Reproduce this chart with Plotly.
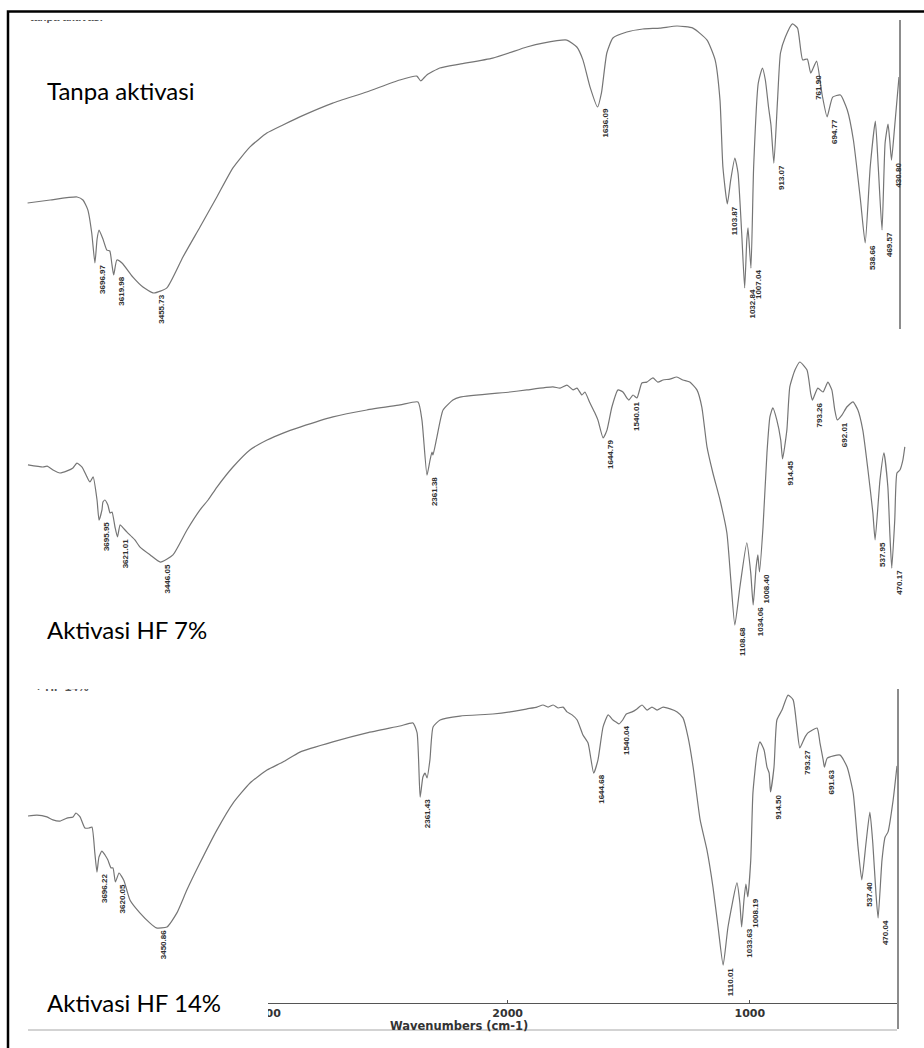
import plotly.graph_objects as go

# ---------------------------------------------------------------
# FTIR spectra (wavenumber in cm-1, transmittance in %T)
# ---------------------------------------------------------------
p1_wn = [3973, 3880, 3770, 3746, 3726, 3710, 3696.97, 3688, 3680, 3664, 3648, 3636, 3628,
         3619.98, 3607, 3586, 3541, 3500, 3455.73, 3402, 3336, 3266, 3197, 3131, 3061, 2992,
         2926, 2857, 2722, 2583, 2447, 2377, 2361, 2336, 2283, 2201, 2066, 1926, 1860, 1762,
         1721, 1696, 1667, 1636.09, 1620, 1598, 1573, 1516, 1450, 1380, 1310, 1245, 1187, 1154,
         1134, 1122, 1103.87, 1090, 1073, 1060, 1045, 1032.84, 1024, 1019, 1007.04, 996, 977,
         960, 948, 935, 925, 913.07, 898, 886, 866, 837, 816, 795, 776, 761.90, 738, 715, 694.77,
         672, 640, 612, 587, 558, 538.66, 518, 497, 485, 469.57, 457, 445, 438, 430.80, 418, 400]
p1_t = [42.0, 43.0, 44.0, 43.0, 39.7, 32.0, 22.0, 30.0, 33.0, 30.0, 26.3, 26.0, 22.0,
        18.0, 23.0, 22.0, 17.3, 14.0, 12.0, 13.7, 24.0, 34.0, 44.0, 53.7, 60.7, 65.3,
        68.0, 70.7, 75.3, 79.0, 83.0, 84.3, 82.7, 84.7, 87.0, 88.3, 90.3, 94.0, 95.3, 96.3,
        94.0, 89.7, 80.7, 74.0, 78.7, 92.0, 97.0, 99.0, 100.0, 100.3, 101.0, 100.3, 96.3, 89.7,
        76.3, 54.0, 41.7, 49.7, 57.0, 52.0, 32.0, 13.7, 29.7, 33.7, 20.3, 54.0, 82.0,
        87.0, 83.0, 74.0, 68.0, 55.3, 76.3, 92.0, 97.3, 101.7, 100.3, 89.7, 90.0, 85.3, 89.3, 78.0, 70.7,
        77.3, 78.0, 73.0, 63.0, 43.0, 28.7, 54.0, 69.3, 54.0, 33.0, 62.0, 68.3, 63.0, 56.3, 67.3, 84.0]

p2_wn = [3985, 3924, 3907, 3883, 3855, 3826, 3802, 3786, 3765, 3745, 3733, 3720, 3704, 3695.95,
         3684, 3680, 3672, 3660, 3651, 3643, 3631, 3621.01, 3610, 3598, 3582, 3562, 3550, 3529,
         3488, 3446.05, 3395, 3338, 3285, 3252, 3216, 3151, 3082, 3012, 2947, 2878, 2744, 2606,
         2471, 2398, 2382, 2361.38, 2349, 2341, 2337, 2321, 2296, 2256, 2227, 2024, 1955, 1849,
         1820, 1792, 1767, 1751, 1731, 1719, 1698, 1678, 1666, 1644.79, 1629, 1609, 1584, 1564,
         1548, 1540.01, 1523, 1507, 1487, 1467, 1442, 1422, 1401, 1373, 1345, 1320, 1292, 1263,
         1243, 1222, 1198, 1169, 1141, 1125, 1108.68, 1088, 1060, 1044, 1034.06, 1022, 1015,
         1008.40, 994, 978, 966, 954, 938, 922, 914.45, 897, 885, 864, 844, 815, 800, 793.26,
         771, 750, 730, 714, 702, 692.01, 673, 653, 628, 608, 588, 567, 547, 537.95, 518, 502,
         486, 478, 470.17, 458, 449, 437, 425, 417]
p2_t = [71.7, 71.0, 71.3, 70.0, 69.0, 69.7, 70.7, 72.3, 71.0, 67.7, 66.0, 67.7, 60.0, 53.3,
        56.7, 59.3, 60.0, 58.3, 55.7, 56.0, 51.0, 47.7, 51.7, 50.7, 49.3, 47.7, 46.7, 44.3,
        41.7, 39.3, 41.7, 50.0, 56.7, 60.0, 64.3, 71.0, 76.7, 80.0, 82.3, 84.3, 87.7, 90.0,
        91.7, 92.7, 86.7, 68.3, 73.3, 76.0, 75.0, 81.0, 90.0, 93.3, 94.3, 96.0, 96.7, 97.7,
        97.3, 98.3, 96.7, 97.3, 95.0, 96.0, 92.3, 89.0, 86.7, 80.7, 83.3, 91.0, 96.7, 96.0,
        94.0, 93.3, 95.0, 94.0, 99.0, 99.3, 100.7, 99.3, 100.0, 100.3, 101.0, 100.0, 99.3, 96.7,
        91.0, 77.7, 69.0, 60.0, 49.0, 33.3, 18.3, 31.0, 45.7, 35.7, 25.0, 37.7, 41.7,
        36.0, 51.0, 75.7, 87.7, 90.7, 86.7, 80.0, 73.7, 83.3, 97.7, 103.3, 106.0, 103.3, 95.5, 93.3,
        97.3, 96.0, 99.3, 96.7, 90.0, 86.7, 88.3, 91.0, 92.7, 90.0, 83.3, 70.0, 55.7, 46.7, 66.7, 75.7,
        64.3, 49.0, 37.3, 53.3, 69.0, 70.0, 73.3, 77.7]

p3_wn = [3981, 3944, 3903, 3878, 3849, 3820, 3795, 3783, 3766, 3746, 3729, 3717, 3705, 3696.22,
         3688, 3676, 3663, 3651, 3638, 3630, 3620.05, 3605, 3585, 3560, 3519, 3477, 3450.86,
         3407, 3366, 3325, 3271, 3201, 3134, 3064, 2994, 2928, 2858, 2722, 2581, 2445, 2391,
         2374, 2361.43, 2350, 2341, 2333, 2321, 2308, 2279, 2197, 2061, 1990, 1920, 1879, 1854,
         1833, 1812, 1792, 1771, 1755, 1734, 1713, 1689, 1668, 1644.68, 1627, 1606, 1585, 1565,
         1552, 1540.04, 1525, 1510, 1486, 1466, 1445, 1424, 1404, 1383, 1358, 1329, 1300, 1276,
         1255, 1234, 1205, 1177, 1152, 1131, 1110.01, 1090, 1053, 1041, 1033.63, 1024, 1016,
         1008.19, 996, 987, 970, 958, 941, 929, 920, 914.50, 900, 888, 867, 842, 821, 806, 793.27,
         772, 760, 722, 710, 697, 691.63, 680, 627, 598, 573, 553, 537.40, 520, 504, 492, 479,
         470.04, 454, 441, 429, 408, 392]
p3_t = [71.0, 71.3, 70.7, 69.7, 69.3, 70.3, 70.7, 72.0, 70.7, 67.0, 67.0, 67.3, 58.7, 52.3,
        57.3, 59.3, 58.0, 56.3, 53.7, 53.7, 49.0, 52.0, 49.5, 43.0, 38.7, 35.3, 33.7,
        34.0, 38.7, 46.3, 55.3, 66.3, 75.3, 82.0, 86.3, 89.0, 92.3, 95.7, 98.7, 101.0, 102.0,
        98.7, 77.3, 84.0, 85.3, 83.7, 89.7, 100.7, 103.0, 104.3, 105.0, 105.7, 106.7, 107.3, 108.0,
        107.3, 108.0, 107.0, 107.3, 105.7, 104.7, 103.0, 98.0, 95.3, 85.3, 89.7, 100.7, 104.7, 103.0,
        102.3, 101.7, 103.0, 105.0, 105.7, 106.7, 108.0, 106.3, 107.3, 106.3, 107.3, 106.7, 105.7, 103.7,
        97.3, 87.3, 69.7, 59.7, 47.3, 34.0, 21.3, 34.0, 48.7, 42.0, 34.0, 43.0, 48.3,
        44.0, 56.3, 78.7, 92.0, 95.7, 93.0, 87.3, 85.3, 79.0, 87.3, 103.0, 106.3, 111.3, 109.7, 101.0, 93.7,
        97.3, 98.7, 100.3, 95.3, 89.7, 87.3, 90.3, 91.3, 87.3, 78.7, 60.7, 49.7, 62.0, 72.3, 62.0, 45.3,
        37.0, 56.3, 64.0, 65.7, 76.3, 87.7]

# labelled band positions (cm-1)
p1_peaks = [3696.97, 3619.98, 3455.73, 1636.09, 1103.87, 1032.84, 1007.04, 913.07,
            761.90, 694.77, 538.66, 469.57, 430.80]
p2_peaks = [3695.95, 3621.01, 3446.05, 2361.38, 1644.79, 1540.01, 1108.68, 1034.06,
            1008.40, 914.45, 793.26, 692.01, 537.95, 470.17]
p3_peaks = [3696.22, 3620.05, 3450.86, 2361.43, 1644.68, 1540.04, 1110.01, 1033.63,
            1008.19, 914.50, 793.27, 691.63, 537.40, 470.04]

panel_names = ["Tanpa aktivasi", "Aktivasi HF 7%", "Aktivasi HF 14%"]
x_ticks = [3000, 2000, 1000]
x_title = "Wavenumbers (cm-1)"

# ---------------------------------------------------------------
# page geometry (pixels -> paper fractions)
# ---------------------------------------------------------------
W, H = 924, 1048
ML, MR = 21, 15
PW = W - ML - MR


def px_x(px):
    return (px - ML) / PW


def px_y(py):
    return (H - py) / H


LINE = dict(color="#757575", width=1.2, shape="spline", smoothing=0.5)
LABEL_FONT = dict(family="Liberation Sans Narrow, Arial Narrow, Liberation Sans, sans-serif",
                  size=8, color="#303030", weight="bold")

fig = go.Figure()

panels = [
    (p1_wn, p1_t, p1_peaks, "x", "y"),
    (p2_wn, p2_t, p2_peaks, "x2", "y2"),
    (p3_wn, p3_t, p3_peaks, "x3", "y3"),
]

annotations = []
for wn, t, peaks, xa, ya in panels:
    fig.add_trace(go.Scatter(x=wn, y=t, mode="lines", line=LINE, xaxis=xa, yaxis=ya,
                             hoverinfo="skip", showlegend=False))
    lookup = dict(zip(wn, t))
    for pk in peaks:
        annotations.append(dict(
            x=pk, y=lookup[pk], xref=xa, yref=ya, text=f"{pk:.2f}", textangle=-90,
            showarrow=False, xanchor="left", yanchor="top", xshift=2, yshift=-1,
            font=LABEL_FONT, borderpad=0))

# clipped header remnants at the top of the first and third frames
fig.add_trace(go.Scatter(x=[3963], y=[103.6], mode="text", text=["tanpa aktivasi"],
                         textposition="middle right",
                         textfont=dict(family="Liberation Sans", size=11, color="#555555", weight="bold"),
                         xaxis="x", yaxis="y", hoverinfo="skip", showlegend=False, cliponaxis=True))
fig.add_trace(go.Scatter(x=[3952], y=[113.6], mode="text", text=["+ HF 14%"],
                         textposition="middle right",
                         textfont=dict(family="Liberation Sans", size=12, color="#555555", weight="bold"),
                         xaxis="x3", yaxis="y3", hoverinfo="skip", showlegend=False, cliponaxis=True))

# sample names
name_pos = [90, 630, 1003]
for name, cy in zip(panel_names, name_pos):
    annotations.append(dict(
        x=px_x(45), y=px_y(cy), xref="paper", yref="paper", text=name, showarrow=False,
        xanchor="left", yanchor="middle",
        font=dict(family="Lato, Carlito, Open Sans, sans-serif", size=24, color="#000000")))

# axis title
annotations.append(dict(
    x=px_x(459), y=px_y(1026), xref="paper", yref="paper", text=x_title, showarrow=False,
    xanchor="center", yanchor="middle", borderpad=0,
    font=dict(family="DejaVu Sans", size=11.5, color="#333333", weight="bold")))

shapes = [
    # white box behind the last sample name
    dict(type="rect", xref="paper", yref="paper", x0=px_x(18), x1=px_x(268),
         y0=px_y(1021), y1=px_y(986), fillcolor="white", line=dict(width=0), layer="above"),
    # lower frame edge of the last panel
    dict(type="line", xref="paper", yref="paper", x0=px_x(28), x1=px_x(897),
         y0=px_y(1030), y1=px_y(1030), line=dict(color="#c4c4c4", width=1.5)),
    # outer border
    dict(type="rect", xref="paper", yref="paper", x0=px_x(8), x1=px_x(940),
         y0=px_y(1070), y1=px_y(11.5), line=dict(color="#000000", width=2.5)),
]

hidden = dict(visible=False, showgrid=False, zeroline=False)
right_line = dict(side="right", showline=True, linecolor="#8c8c8c", linewidth=1.5,
                  showticklabels=False, ticks="", showgrid=False, zeroline=False)

fig.update_layout(
    width=W, height=H,
    margin=dict(l=ML, r=MR, t=0, b=0),
    paper_bgcolor="white", plot_bgcolor="white",
    showlegend=False,
    xaxis=dict(domain=[0, px_x(899)], range=[4000, 400], anchor="y", **hidden),
    yaxis=dict(domain=[px_y(329), px_y(20)], range=[0, 103], anchor="x", **right_line),
    xaxis2=dict(domain=[px_x(24.3), 1], range=[4000, 400], anchor="y2", **hidden),
    yaxis2=dict(domain=[px_y(680), px_y(330)], range=[0, 116.67], anchor="x2", **hidden),
    xaxis3=dict(domain=[px_x(23.4), px_x(897)], range=[4000, 392], anchor="free",
                position=px_y(1003), showline=True, linecolor="#555555", linewidth=1.3,
                ticks="inside", ticklen=3, tickcolor="#555555", tickvals=x_ticks,
                tickfont=dict(family="DejaVu Sans", size=11, color="#333333", weight="bold"),
                showgrid=False, zeroline=False),
    yaxis3=dict(domain=[px_y(1029), px_y(689)], range=[0, 113.33], anchor="x3", **right_line),
    annotations=annotations,
    shapes=shapes,
)

fig.write_html("out.html")
